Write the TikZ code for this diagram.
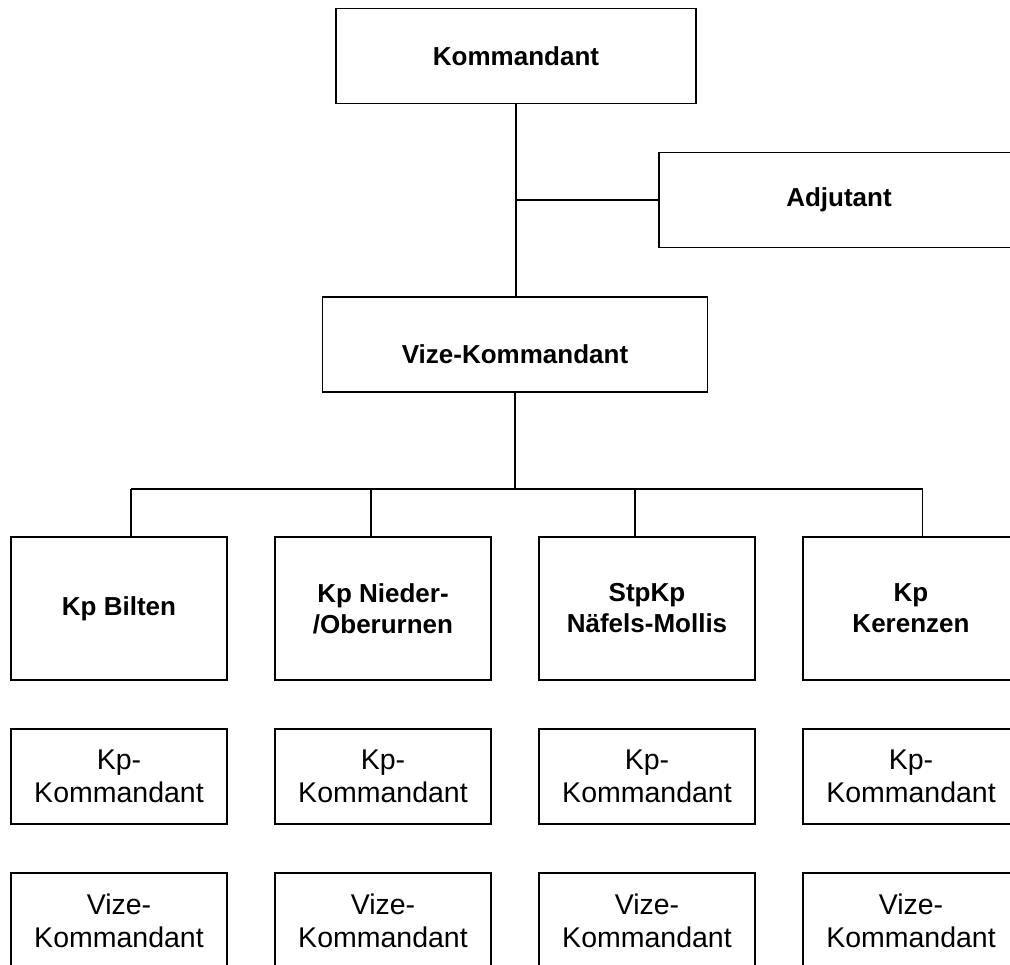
\documentclass[tikz,border=0pt]{standalone}
\usepackage{fontspec}
\setmainfont{Liberation Sans}
\usetikzlibrary{positioning}

\begin{document}
\begin{tikzpicture}[x=1pt,y=-1pt,line width=1.5pt,
    box/.style={draw,rectangle,align=center,inner sep=4pt},
    head/.style={box,minimum width=360pt,minimum height=95pt,font=\fontsize{26}{31}\selectfont\bfseries},
    unit/.style={box,minimum width=216pt,minimum height=143pt,font=\fontsize{26}{31}\selectfont\bfseries},
    role/.style={box,minimum width=216pt,minimum height=95pt,font=\fontsize{28.5}{33}\selectfont}]
    \useasboundingbox (0,0) rectangle (1010,965);
    \clip (0,0) rectangle (1010,965);
    % leitung
    \node[head] (kdt) at (516,56) {Kommandant};
    \node[head] (adj) at (839,200) {Adjutant};
    \node[head,minimum width=385pt,text height=45pt,text depth=6pt] (vkdt) at (515,344.5) {Vize-Kommandant};
    % kompanien
    \foreach \i/\xc/\txt in {1/119/{Kp Bilten}, 2/383/{Kp Nieder-\\/Oberurnen}, 3/647/{StpKp\\Näfels-Mollis}, 4/911/{Kp\\Kerenzen}} {
        \node[unit] (kp\i) at (\xc,608.5) {\txt};
        \node[role] (kk\i) at (\xc,776.5) {Kp-\\Kommandant};
        \node[role] (vk\i) at (\xc,920.5) {Vize-\\Kommandant};
    }
    % linien
    \draw (kdt.south) -- (kdt.south |- vkdt.north);
    \draw (kdt.south |- adj.west) -- (adj.west);
    \coordinate (d1) at (131,489);
    \coordinate (d2) at (371,489);
    \coordinate (d3) at (635,489);
    \coordinate (d4) at (922.5,489);
    \draw (vkdt.south) -- (vkdt.south |- d1);
    \draw (d1) -- (d4);
    \foreach \i in {1,...,4}
        \draw (d\i) -- (d\i |- kp\i.north);
\end{tikzpicture}
\end{document}
